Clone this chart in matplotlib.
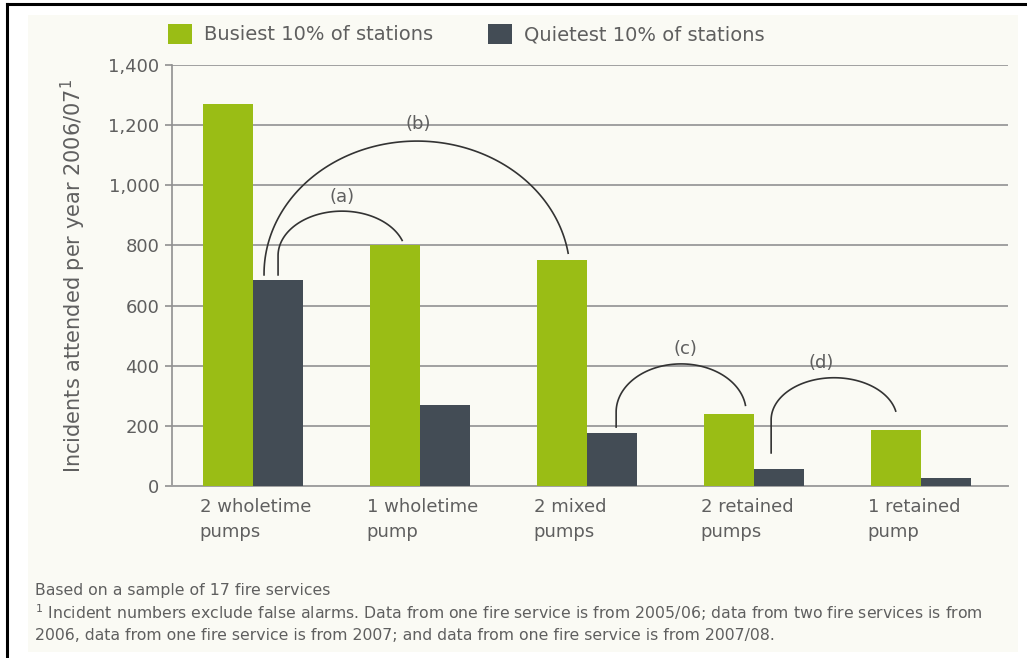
import numpy as np
import matplotlib.pyplot as plt
from matplotlib.patches import Rectangle
from matplotlib.lines import Line2D

# data
categories = ['2 wholetime\npumps', '1 wholetime\npump', '2 mixed\npumps',
              '2 retained\npumps', '1 retained\npump']
busiest = [1270, 800, 750, 240, 185]
quietest = [685, 270, 175, 58, 28]

# arcs: (left x, centre x, left base y, centre y, half height, end angle, label, label x, label y)
arcs = [
    (0.15, 0.533, 702, 766, 148, 20, '(a)', 0.533, 960),
    (0.066, 0.982, 702, 705, 442, 9, '(b)', 0.99, 1203),
    (2.174, 2.563, 196, 246, 160, 8, '(c)', 2.587, 456),
    (3.102, 3.479, 110, 220, 140, 12, '(d)', 3.40, 409),
]

green = '#9abd15'
dark = '#434c55'
grey_txt = '#5f5f5f'
bg = '#fafaf4'

W, H = 1027, 658
fig = plt.figure(figsize=(W / 100, H / 100), dpi=100, facecolor='white')

# off-white panel and black frame lines
fig.patches.append(Rectangle((28 / W, 1 - 652 / H), (1018 - 28) / W, (652 - 15) / H,
                             transform=fig.transFigure, facecolor=bg, edgecolor='none', zorder=-5))
fig.lines.append(Line2D([7 / W, 1], [1 - 4 / H, 1 - 4 / H], transform=fig.transFigure,
                        color='black', lw=2.2))
fig.lines.append(Line2D([7 / W, 7 / W], [0, 1 - 4 / H], transform=fig.transFigure,
                        color='black', lw=2.2))

ax = fig.add_axes([172 / W, 1 - 486 / H, (1008 - 172) / W, (486 - 65) / H])
ax.set_facecolor('none')

x = np.arange(len(categories))
w = 0.3
b1 = ax.bar(x - w / 2, busiest, w, color=green, label='Busiest 10% of stations', zorder=3)
b2 = ax.bar(x + w / 2, quietest, w, color=dark, label='Quietest 10% of stations', zorder=3)

ax.set_xlim(-0.485, 4.52)
ax.set_ylim(0, 1400)
ax.set_yticks(range(0, 1401, 200))
ax.set_yticklabels([f'{v:,}' for v in range(0, 1401, 200)])
ax.yaxis.grid(True, color='#a0a0a0', lw=1.4, zorder=1)
ax.set_axisbelow(True)

for s in ['top', 'right']:
    ax.spines[s].set_visible(False)
ax.spines['left'].set_color('#909090')
ax.spines['left'].set_linewidth(1.2)
ax.spines['bottom'].set_color('#a0a0a0')
ax.spines['bottom'].set_linewidth(1.4)

ax.tick_params(axis='y', length=5, width=1.2, color='#909090', pad=4,
               labelsize=13, labelcolor=grey_txt)
ax.set_xticks(x - w - 0.02)
ax.set_xticklabels(categories, ha='left', fontsize=13, color=grey_txt, linespacing=1.45)
ax.tick_params(axis='x', length=0, pad=9)

ax.set_ylabel('Incidents attended per year 2006/07$^{1}$', fontsize=15, color=grey_txt)
ax.yaxis.set_label_coords(-0.100, 0.5)

# comparison arcs
for xl, cx, ybase, yc, b, th_end, lab, lx, ly in arcs:
    a = cx - xl
    th = np.radians(np.linspace(180, th_end, 120))
    xs = np.concatenate([[xl], cx + a * np.cos(th)])
    ys = np.concatenate([[ybase], yc + b * np.sin(th)])
    ax.plot(xs, ys, color='#333333', lw=1.2, zorder=4, clip_on=False)
    ax.text(lx, ly, lab, ha='center', va='center', fontsize=13, color=grey_txt, zorder=5)

leg = ax.legend(handles=[b1, b2], loc='center left', bbox_to_anchor=(168 / W, 1 - 34 / H),
                bbox_transform=fig.transFigure, ncol=2, frameon=False, fontsize=14,
                handlelength=1.25, handleheight=1.25, handletextpad=0.6, columnspacing=2.8,
                borderaxespad=0, borderpad=0)
for t in leg.get_texts():
    t.set_color(grey_txt)

fig.text(35 / W, 1 - 590 / H, 'Based on a sample of 17 fire services',
         fontsize=11.3, color=grey_txt, va='center')
fig.text(35 / W, 1 - 613 / H,
         '$^{1}$ Incident numbers exclude false alarms. Data from one fire service is from 2005/06; '
         'data from two fire services is from',
         fontsize=11.3, color=grey_txt, va='center')
fig.text(35 / W, 1 - 636 / H,
         '2006, data from one fire service is from 2007; and data from one fire service is from 2007/08.',
         fontsize=11.3, color=grey_txt, va='center')

fig.savefig('out.png', dpi=100, facecolor='white')
